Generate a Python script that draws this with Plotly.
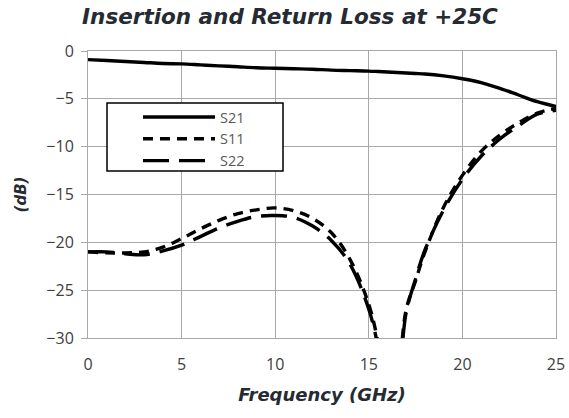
import plotly.graph_objects as go

freq = [0, 1, 2, 3, 4, 5, 6, 7, 8, 9, 10, 11, 12, 13, 14, 15, 15.5, 16, 16.5, 17, 17.5, 18, 19, 20, 21, 22, 23, 24, 25]
s21 = [-0.9, -1.0, -1.1, -1.2, -1.3, -1.35, -1.45, -1.55, -1.65, -1.75, -1.8, -1.85, -1.9, -2.0, -2.05, -2.1,
       -2.15, -2.2, -2.25, -2.3, -2.35, -2.4, -2.6, -2.9, -3.3, -3.9, -4.6, -5.3, -5.8]
s11 = [-21.0, -21.1, -21.1, -21.0, -20.5, -19.6, -18.6, -17.7, -17.0, -16.6, -16.4, -16.7, -17.5, -19.0, -21.8, -26.5,
       -30.5, -36.0, -34.0, -27.0, -24.0, -21.0, -16.3, -13.0, -10.5, -8.8, -7.5, -6.5, -6.0]
s22 = [-21.0, -21.0, -21.2, -21.3, -20.9, -20.3, -19.4, -18.5, -17.8, -17.3, -17.2, -17.4, -18.3, -19.8, -22.3, -27.0,
       -31.0, -37.0, -35.0, -27.3, -23.8, -20.8, -16.6, -13.4, -11.0, -9.2, -7.8, -6.6, -6.2]

x_ticks = [0, 5, 10, 15, 20, 25]
y_ticks = [0, -5, -10, -15, -20, -25, -30]

W, H = 569, 418
L, R, T, B = 88, 13, 51, 80
pw, ph = W - L - R, H - T - B


def px_x(p):
    return (p - L) / pw


def px_y(p):
    return (H - B - p) / ph


fig = go.Figure()
fig.add_trace(go.Scatter(x=freq, y=s21, name="S21", mode="lines",
                         line=dict(color="black", width=3.4, shape="spline")))
fig.add_trace(go.Scatter(x=freq, y=s11, name="S11", mode="lines",
                         line=dict(color="black", width=3.4, shape="spline", dash="10px,7px")))
fig.add_trace(go.Scatter(x=freq, y=s22, name="S22", mode="lines",
                         line=dict(color="black", width=3.4, shape="spline", dash="26px,10px")))

grid = "#a8a8a8"
head = "#262b33"
tickfont = dict(family="Open Sans", size=16, color="#404040")
fig.update_layout(
    width=W, height=H,
    margin=dict(l=L, r=R, t=T, b=B),
    paper_bgcolor="white", plot_bgcolor="white",
    title=dict(text="Insertion and Return Loss at +25C", x=290 / W, xanchor="center",
               y=1 - 16 / H, yanchor="middle", xref="container", yref="container",
               font=dict(family="DejaVu Sans", size=21.5, color=head, weight="bold", style="italic")),
    xaxis=dict(range=[0, 25], tickvals=x_ticks, showgrid=True, gridcolor=grid, gridwidth=1,
               showline=True, linecolor=grid, mirror=True, zeroline=False, automargin=False,
               ticks="", tickfont=tickfont, ticklabelstandoff=12,
               title=dict(text="Frequency (GHz)", standoff=14,
                          font=dict(family="DejaVu Sans", size=18, color=head, weight="bold", style="italic"))),
    yaxis=dict(range=[-30, 0], tickvals=y_ticks, showgrid=True, gridcolor=grid, gridwidth=1,
               showline=True, linecolor=grid, mirror=True, zeroline=False, automargin=False,
               ticks="outside", ticklen=6, tickcolor=grid, tickfont=tickfont, ticklabelstandoff=4,
               title=dict(text="(dB)", standoff=16,
                          font=dict(family="DejaVu Sans", size=15, color=head, weight="bold", style="italic"))),
    legend=dict(x=px_x(138), y=px_y(101), xanchor="left", yanchor="top",
                bgcolor="rgba(0,0,0,0)", borderwidth=0,
                font=dict(family="Open Sans", size=14.5, color="#595959"),
                itemwidth=72, tracegroupgap=0),
    showlegend=True,
    shapes=[dict(type="rect", xref="paper", yref="paper", layer="above",
                 x0=px_x(107), x1=px_x(283), y0=px_y(171), y1=px_y(103),
                 fillcolor="white", line=dict(color="black", width=1.5))],
)

fig.write_html("out.html")
